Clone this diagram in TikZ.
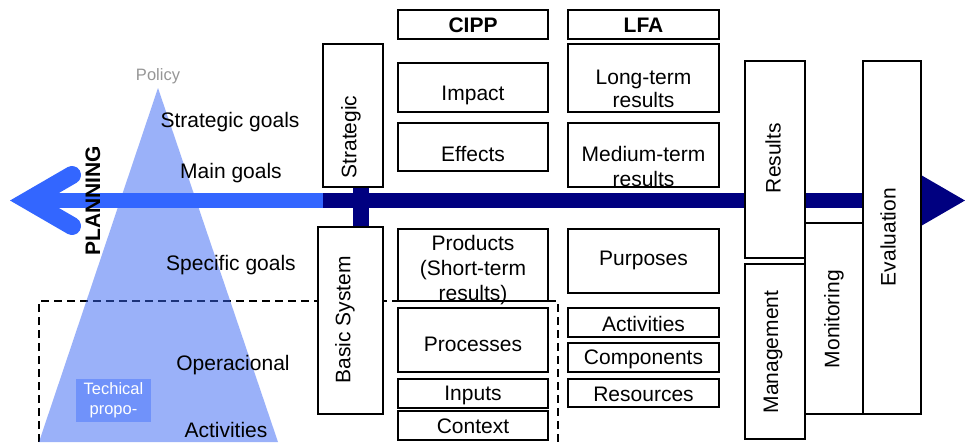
\documentclass[tikz,border=0pt]{standalone}
\usepackage{fontspec}
\setmainfont{Liberation Sans}
\usetikzlibrary{calc}
\definecolor{navy}{RGB}{0,0,128}
\definecolor{lblue}{RGB}{51,102,255}
\definecolor{tri}{RGB}{55,101,245}
\definecolor{tech}{RGB}{112,146,250}
\definecolor{pol}{RGB}{150,150,150}
\begin{document}
\begin{tikzpicture}[x=1pt,y=-1pt,
  box/.style={draw=black, line width=1.6pt, fill=white, inner sep=0pt},
  lbl/.style={font=\fontsize{21}{24}\selectfont, align=center, inner sep=0pt},
  blbl/.style={font=\fontsize{21}{24}\selectfont\bfseries, align=center, inner sep=0pt},
  vlbl/.style={lbl, rotate=90},
  barline/.style={line width=15pt},
  chev/.style={line width=18pt, line cap=round, line join=miter, miter limit=10},
]
\useasboundingbox (0,0) rectangle (965,442);
\fill[white] (0,0) rectangle (965,442);

% dashed frame
\coordinate (d1) at (39,442);
\coordinate (d2) at (39,301);
\coordinate (d3) at (558,301);
\coordinate (d4) at (558,442);
\draw[line width=1.5pt, dash pattern=on 8pt off 5pt] (d1) -- (d2) -- (d3) -- (d4);

% pyramid
\coordinate (apex) at (158,88);
\coordinate (bl) at (39,442);
\coordinate (br) at (278,442);
\fill[tri, fill opacity=0.5] (apex) -- (bl) -- (br) -- cycle;

% main arrow
\coordinate (lv) at (28,200.5);
\coordinate (lw1) at (72,175);
\coordinate (lw2) at (72,226);
\coordinate (mid) at (323,200.5);
\coordinate (rv) at (947,200.5);
\coordinate (rw1) at (903,175);
\coordinate (rw2) at (903,226);
\draw[barline, lblue] (lv) -- (mid);
\draw[chev, lblue] (lw1) -- (lv) -- (lw2);
\draw[barline, navy] (mid) -- (rv);
\draw[chev, navy] (rw1) -- (rv) -- (rw2);

% boxes
\node[box, minimum width=60pt, minimum height=143pt] (strategic) at (353,115.5) {};
\node[box, minimum width=65pt, minimum height=187pt] (basic) at (350.5,320.5) {};
\coordinate (vbar) at (361,0);
\draw[navy, line width=16pt] (strategic.south -| vbar) -- (basic.north -| vbar);

\node[box, minimum width=150pt, minimum height=29pt] (cipp) at (473,24.5) {};
\node[box, minimum width=150pt, minimum height=49pt] (impact) at (473,87.5) {};
\node[box, minimum width=150pt, minimum height=48pt] (effects) at (473,147) {};
\node[box, minimum width=150pt, minimum height=64pt] (processes) at (473,340) {};
\node[box, minimum width=150pt, minimum height=29pt] (inputs) at (473,393.5) {};
\node[box, minimum width=150pt, minimum height=29pt] (context) at (473,425.5) {};

\node[box, minimum width=151pt, minimum height=29pt] (lfa) at (643.5,24.5) {};
\node[box, minimum width=151pt, minimum height=68pt] (longterm) at (643.5,78) {};
\node[box, minimum width=151pt, minimum height=64pt] (medium) at (643.5,155) {};
\node[box, minimum width=151pt, minimum height=64pt] (purposes) at (643.5,261) {};
\node[box, minimum width=151pt, minimum height=29pt] (activities) at (643.5,322.5) {};
\node[box, minimum width=151pt, minimum height=29pt] (components) at (643.5,357.5) {};
\node[box, minimum width=151pt, minimum height=28pt] (resources) at (643.5,393) {};

\node[box, minimum width=60pt, minimum height=197pt] (results) at (775,159.5) {};
\node[box, minimum width=60pt, minimum height=175pt] (management) at (775,351.5) {};
\node[box, minimum width=58pt, minimum height=191pt] (monitoring) at (834,318.5) {};
\node[box, minimum width=58pt, minimum height=353pt] (evaluation) at (892,237.5) {};

% box texts
\node[blbl] (tcipp) at ($(cipp.center)+(0,1)$) {CIPP};
\node[lbl] (timpact) at ($(impact.center)+(0,7.5)$) {Impact};
\node[lbl] (teffects) at ($(effects.center)+(0,7)$) {Effects};
\node[lbl, font=\fontsize{21}{25}\selectfont] (tproducts) at (473,270) {Products\\(Short-term\\results)};
\node[box, fill=none, minimum width=150pt, minimum height=72pt] (products) at (473,265) {};
\node[lbl] (tprocesses) at ($(processes.center)+(0,4.5)$) {Processes};
\node[lbl] (tinputs) at ($(inputs.center)+(0,1.5)$) {Inputs};
\node[lbl] (tcontext) at ($(context.center)+(0,1)$) {Context};

\node[blbl] (tlfa) at ($(lfa.center)+(0,1)$) {LFA};
\node[lbl, font=\fontsize{21}{23}\selectfont] (tlong) at ($(longterm.center)+(0,10.5)$) {Long-term\\results};
\node[lbl, font=\fontsize{21}{25}\selectfont] (tmed) at ($(medium.center)+(0,11)$) {Medium-term\\results};
\node[lbl] (tpurp) at ($(purposes.center)+(0,-1)$) {Purposes};
\node[lbl] (tact) at ($(activities.center)+(0,1)$) {Activities};
\node[lbl] (tcomp) at ($(components.center)+(0,1.5)$) {Components};
\node[lbl] (tres) at ($(resources.center)+(0,1)$) {Resources};

\node[vlbl] (tstrat) at (351,137) {Strategic};
\node[vlbl] (tbasic) at (345,320) {Basic System};
\node[vlbl] (tresults) at (773,158) {Results};
\node[vlbl] (tmanag) at (773,352) {Management};
\node[vlbl] (tmonit) at (834,319) {Monitoring};
\node[vlbl] (teval) at (888,237) {Evaluation};

% pyramid texts
\node[lbl, font=\fontsize{16.5}{20}\selectfont, text=pol] (policy) at (158,76) {Policy};
\node[lbl] (sg) at (230,122) {Strategic goals};
\node[lbl] (mg) at (231,173) {Main goals};
\node[lbl] (spg) at (231,265) {Specific goals};
\node[lbl] (op) at (233,365) {Operacional};
\node[lbl] (act) at (226,430) {Activities};
\node[fill=tech, minimum width=75pt, minimum height=43pt, inner sep=0pt, text=white, align=center, font=\fontsize{16.5}{20}\selectfont] (tech) at (113.5,400.5) {Techical\\propo-};
\node[blbl, rotate=90] (planning) at (93,201) {PLANNING};
\end{tikzpicture}
\end{document}
